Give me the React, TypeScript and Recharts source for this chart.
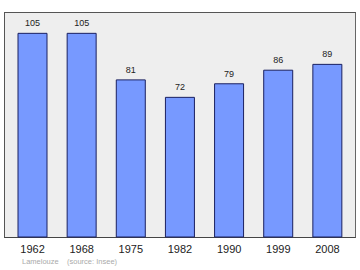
import React from "react";
import { Bar, BarChart, LabelList, XAxis, YAxis } from "recharts";

const years = ["1962", "1968", "1975", "1982", "1990", "1999", "2008"];
const population = [105, 105, 81, 72, 79, 86, 89];

const data = years.map((year, i) => ({ year, population: population[i] }));

const W = 360;
const H = 270;
const plot = { left: 4, top: 12, right: 356, bottom: 237 };
const axisH = 30;

export default function App() {
    return (
        <div style={{ position: "absolute", left: 0, top: 0, width: W, height: H, background: "#fff", fontFamily: "'Liberation Sans', Arial, sans-serif" }}>
            {/* plot frame behind the chart */}
            <div
                style={{
                    position: "absolute",
                    left: plot.left,
                    top: plot.top,
                    width: plot.right - plot.left,
                    height: plot.bottom - plot.top + 1,
                    boxSizing: "border-box",
                    background: "#eeeeee",
                    borderTop: "1px solid #555",
                    borderLeft: "1px solid #555",
                    borderBottom: "1.5px solid #444",
                    borderRight: "1.5px solid #666",
                }}
            />
            <div style={{ position: "absolute", left: 0, top: 0 }}>
                <BarChart
                    width={W}
                    height={H}
                    data={data}
                    margin={{ top: plot.top, left: plot.left, right: W - plot.right, bottom: H - plot.bottom - axisH }}
                >
                    <YAxis hide domain={[0, 116]} />
                    <XAxis
                        dataKey="year"
                        height={axisH}
                        axisLine={false}
                        tickLine={false}
                        padding={{ left: 4, right: 4 }}
                        tick={{ fill: "#222", fontSize: 11, fontFamily: "'Liberation Sans', Arial, sans-serif" }}
                        tickMargin={2}
                    />
                    <Bar dataKey="population" barSize={29} fill="#7799ff" stroke="#1a2060" strokeWidth={1} isAnimationActive={false}>
                        <LabelList
                            dataKey="population"
                            position="top"
                            offset={7}
                            fill="#222"
                            fontSize={9}
                            fontFamily="'Liberation Sans', Arial, sans-serif"
                        />
                    </Bar>
                </BarChart>
            </div>
            <div style={{ position: "absolute", left: 22, top: 257, fontSize: 7.5, color: "#aaa", whiteSpace: "pre" }}>
                {"Lamelouze    (source: Insee)"}
            </div>
        </div>
    );
}
